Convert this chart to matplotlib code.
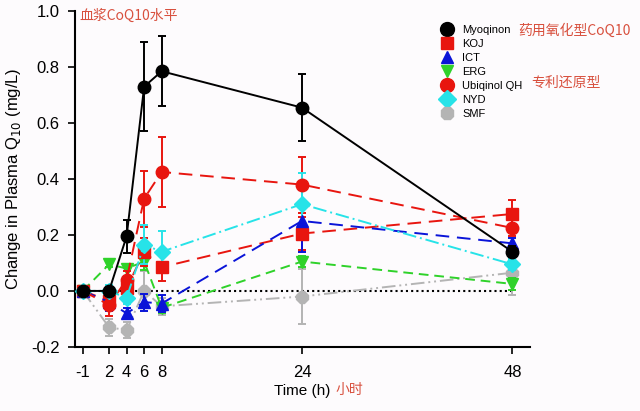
import matplotlib
matplotlib.use("Agg")
import matplotlib.pyplot as plt
from matplotlib.lines import Line2D

plt.rcParams['font.family'] = ['Liberation Sans', 'Noto Sans CJK SC', 'DejaVu Sans']

times = [-1, 2, 4, 6, 8, 24, 48]
xtick_labels = ["-1", "2", "4", "6", "8", "24", "48"]

myoqinon = [0.0, 0.0, 0.195, 0.73, 0.785, 0.655, 0.14]
myoqinon_err = [0.0, 0.0, 0.06, 0.16, 0.125, 0.12, 0.02]
koj = [0.0, -0.035, 0.01, 0.14, 0.085, 0.205, 0.275]
koj_err = [0.0, 0.03, 0.03, 0.05, 0.05, 0.06, 0.05]
ict = [0.0, -0.04, -0.08, -0.04, -0.045, 0.25, 0.17]
ict_err = [0.0, 0.03, 0.02, 0.03, 0.03, 0.11, 0.02]
erg = [0.0, 0.095, 0.08, 0.105, -0.06, 0.105, 0.025]
erg_err = [0.0, 0.01, 0.01, 0.03, 0.02, 0.02, 0.02]
ubiq = [0.0, -0.05, 0.04, 0.33, 0.425, 0.38, 0.225]
ubiq_err = [0.0, 0.04, 0.03, 0.1, 0.125, 0.1, 0.03]
nyd = [0.0, 0.0, -0.025, 0.165, 0.14, 0.31, 0.095]
nyd_err = [0.0, 0.02, 0.02, 0.07, 0.075, 0.11, 0.02]
smf = [0.0, -0.13, -0.14, 0.0, -0.055, -0.02, 0.065]
smf_err = [0.0, 0.03, 0.03, 0.07, 0.03, 0.1, 0.08]

series = [
    ("Myoqinon", myoqinon, myoqinon_err, "black", "o", "-"),
    ("KOJ", koj, koj_err, "#e8150f", "s", (0, (7, 4))),
    ("ICT", ict, ict_err, "#0a14d8", "^", (0, (7, 4))),
    ("ERG", erg, erg_err, "#2fd22a", "v", (0, (5, 3))),
    ("Ubiqinol QH", ubiq, ubiq_err, "#e8150f", "o", (0, (7, 4))),
    ("NYD", nyd, nyd_err, "#27e3e8", "D", (0, (7, 2, 1, 2))),
    ("SMF", smf, smf_err, "#b4b4b4", "8", (0, (7, 2, 1, 2, 1, 2))),
]

fig = plt.figure(figsize=(6.4, 4.11), dpi=100)
fig.patch.set_facecolor("#fdfbfd")
ax = fig.add_axes([0.117, 0.156, 0.711, 0.817])
ax.set_facecolor("#fdfbfd")

ax.plot([-1, 48], [0, 0], color="black", linestyle=(0, (1, 1.5)), linewidth=1.5, zorder=1)

order_z = {"Myoqinon": 5, "KOJ": 4, "ICT": 4, "ERG": 3, "Ubiqinol QH": 4, "NYD": 4, "SMF": 2}
handles = []
for name, y, e, c, m, ls in series:
    ms = 9 if m in ("o", "8") else 8
    ax.errorbar(times, y, yerr=e, color=c, marker=m, markersize=ms, linestyle=ls,
                linewidth=1.4, elinewidth=1.4, capsize=3, capthick=1.4,
                zorder=order_z[name])
    handles.append(Line2D([], [], color=c, marker=m, markersize=ms + 1, linestyle="none", label=name))

ax.set_xlim(-1.9, 50)
ax.set_ylim(-0.2, 1.0)
ax.set_xticks(times)
ax.set_xticklabels(xtick_labels, fontsize=12)
ax.set_yticks([-0.2, 0.0, 0.2, 0.4, 0.6, 0.8, 1.0])
ax.set_yticklabels(["-0.2", "0.0", "0.2", "0.4", "0.6", "0.8", "1.0"], fontsize=12)
ax.spines["top"].set_visible(False)
ax.spines["right"].set_visible(False)
ax.spines["left"].set_linewidth(1.5)
ax.spines["bottom"].set_linewidth(1.5)
ax.tick_params(axis="both", direction="out", length=5, width=1.2)
ax.tick_params(axis="x", pad=8)
ax.tick_params(axis="y", pad=6)

ax.set_ylabel("Change in Plasma Q$_{10}$ (mg/L)", fontsize=12, labelpad=6)
ax.set_xlabel("Time (h)", fontsize=11, labelpad=3)

leg = ax.legend(handles=handles, loc="upper left", bbox_to_anchor=(0.795, 0.971), frameon=False,
                fontsize=8, handlelength=1.0, handletextpad=0.9, labelspacing=0.35,
                borderaxespad=0)

red = "#d8503e"
cjk = ["Noto Sans CJK SC", "DejaVu Sans"]
fig.text(79/640, 1 - 16/411, "血浆CoQ10水平", color=red, fontsize=10,
         family=cjk, va="center", ha="left")
fig.text(518/640, 1 - 31/411, "药用氧化型CoQ10", color=red, fontsize=10,
         family=cjk, va="center", ha="left")
fig.text(531/640, 1 - 83/411, "专利还原型", color=red, fontsize=10,
         family=cjk, va="center", ha="left")
fig.text(335/640, 1 - 390/411, "小时", color=red, fontsize=10,
         family=cjk, va="center", ha="left")

fig.savefig("out.png", dpi=100, facecolor=fig.get_facecolor())
